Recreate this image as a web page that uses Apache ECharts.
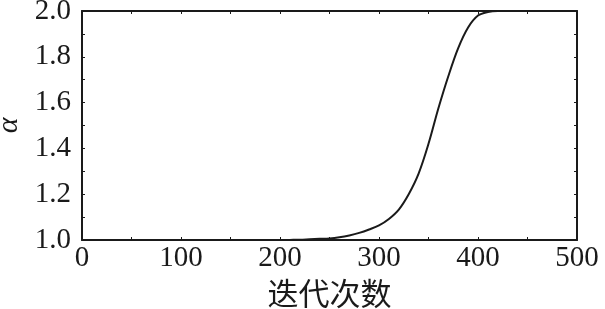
<!DOCTYPE html>
<html><head><meta charset="utf-8">
<script src="https://cdn.jsdelivr.net/npm/echarts@6/dist/echarts.min.js"></script>
<style>html,body{margin:0;padding:0;background:#fff}#c{width:605px;height:309px}</style>
</head><body><div id="c"></div>
<script>
var iterations = [0,10,20,30,40,50,60,70,80,90,100,110,120,130,140,150,160,170,180,190,200,210,220,230,240,250,260,270,280,290,300,310,320,330,340,350,360,370,380,390,400,410,420,430,440,450,460,470,480,490,500];
var alphaValues = [1,1,1,1,1,1,1,1,1,1,1,1,1,1,1,1,1,1,1,1,1,1.0005,1.001,1.003,1.005,1.007,1.012,1.02,1.031,1.046,1.064,1.092,1.133,1.2,1.29,1.42,1.575,1.715,1.838,1.928,1.98,1.996,2,2,2,2,2,2,2,2,2];
var xLabelStep = 100;
var yLabelStep = 0.2;
var xTitle = '迭代次数';
var yTitle = 'α';

var ink = '#1a1a1a';
var serif = '"Liberation Serif","DejaVu Serif",serif';
var data = iterations.map(function(x,i){return [x, alphaValues[i]];});

function xAxisDef(pos, showLabel){
  return {type:'value', position:pos, min:0, max:500, interval:50,
    axisLine:{show:true,onZero:false,lineStyle:{color:ink,width:2}},
    axisTick:{show:true,inside:true,length:3,lineStyle:{color:ink,width:1}},
    splitLine:{show:false},
    axisLabel:{show:showLabel,color:ink,fontFamily:serif,fontSize:29,margin:4,
      formatter:function(v){return (Math.round(v)%xLabelStep===0)?String(Math.round(v)):'';}},
    name: showLabel?xTitle:'', nameLocation:'middle', nameGap:38,
    nameTextStyle:{color:ink,fontFamily:'"Noto Sans CJK SC",serif',fontSize:31}
  };
}
function yAxisDef(pos, showLabel){
  return {type:'value', position:pos, min:1.0, max:2.0, interval:0.1,
    axisLine:{show:true,onZero:false,lineStyle:{color:ink,width:2}},
    axisTick:{show:true,inside:true,length:3,lineStyle:{color:ink,width:1}},
    splitLine:{show:false},
    axisLabel:{show:showLabel,color:ink,fontFamily:serif,fontSize:29,margin:11,
      formatter:function(v){var k=Math.round(v*10);return (k%Math.round(yLabelStep*10)===0)?(k/10).toFixed(1):'';}},
    name: showLabel?yTitle:'', nameLocation:'middle', nameGap:56, nameRotate:90,
    nameTextStyle:{color:ink,fontFamily:serif,fontStyle:'italic',fontSize:30}
  };
}

var chart = echarts.init(document.getElementById('c'), null, {renderer:'canvas'});
chart.setOption({
  animation:false,
  backgroundColor:'#fff',
  grid:{left:82,right:28,top:11,bottom:69,containLabel:false,outerBoundsMode:'none'},
  xAxis:[xAxisDef('bottom',true), xAxisDef('top',false)],
  yAxis:[yAxisDef('left',true), yAxisDef('right',false)],
  series:[{type:'line', data:data, xAxisIndex:0, yAxisIndex:0, showSymbol:false, smooth:0.35,
    lineStyle:{color:ink,width:2}, clip:true}]
});
</script></body></html>
